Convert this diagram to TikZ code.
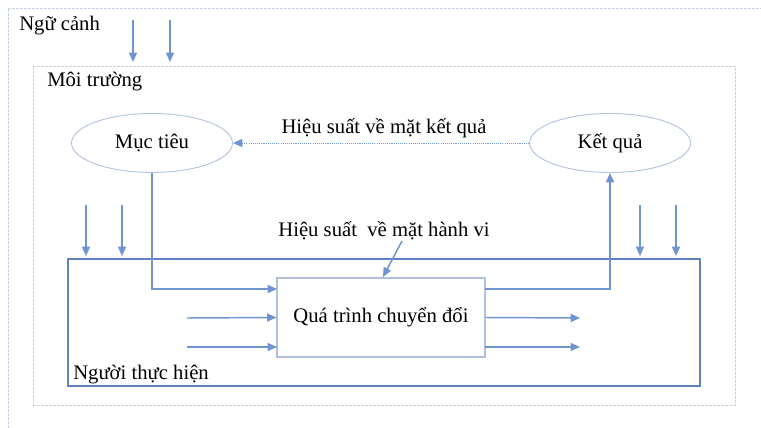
\documentclass[tikz,border=0pt]{standalone}
\usepackage{fontspec}
\setmainfont{Liberation Serif}
\usetikzlibrary{arrows.meta,shapes.geometric}
\definecolor{framec}{RGB}{200,210,228}
\definecolor{arrc}{RGB}{112,148,210}
\definecolor{boxc}{RGB}{98,128,190}
\definecolor{ellc}{RGB}{180,195,225}
\definecolor{qtc}{RGB}{175,192,222}
\begin{document}
\begin{tikzpicture}[x=0.75pt,y=-0.75pt,
  frame/.style={draw=framec,dash pattern=on 2pt off 1pt,line width=0.7pt},
  arr/.style={draw=arrc,line width=1.1pt,-{Triangle[length=7pt,width=6pt]}},
  dotarr/.style={draw=arrc,line width=0.7pt,dash pattern=on 0.8pt off 0.8pt,-{Triangle[length=7pt,width=6pt]}},
  lbl/.style={font=\fontsize{15.5}{18}\selectfont,inner sep=0pt},
  oval/.style={ellipse,draw=ellc,line width=0.7pt,minimum width=120.75pt,minimum height=44.25pt,inner sep=0pt,font=\fontsize{15.5}{18}\selectfont}]
\useasboundingbox (0,0) rectangle (761,428);
\clip (0,0) rectangle (761,428);
\fill[white] (0,0) rectangle (761,428);
% outer context frame (extends beyond picture)
\draw[frame] (8,440) -- (8,8) -- (775,8);
\node[lbl,anchor=west] (ngucanh) at (19,26) {Ngữ cảnh};
% environment frame
\node[frame,draw,minimum width=526.5pt,minimum height=254.25pt,inner sep=0pt] (moitruong) at (384,235.5) {};
\node[lbl,anchor=west] (moitruonglbl) at (47,82) {Môi trường};
% performer box
\node[draw=boxc,line width=1.3pt,minimum width=474pt,minimum height=95.25pt,inner sep=0pt] (nguoi) at (384,322.5) {};
\node[lbl,anchor=west] (nguoilbl) at (73,375) {Người thực hiện};
% ovals
\node[oval] (muctieu) at (152,143) {Mục tiêu};
\node[oval] (ketqua) at (610,143) {Kết quả};
% process box
\node[draw=qtc,line width=0.8pt,minimum width=156pt,minimum height=59.25pt,inner sep=0pt,font=\fontsize{15.5}{18}\selectfont] (qt) at (381,317.5) {Quá trình chuyển đổi};
% labels
\node[lbl] (hsketqua) at (384,128) {Hiệu suất về mặt kết quả};
\node[lbl] (hshanhvi) at (384,231) {Hiệu suất \ về mặt hành vi};
% coordinates
\coordinate (c1s) at (133,20); \coordinate (c1e) at (133,62);
\coordinate (c2s) at (170,20); \coordinate (c2e) at (170,62);
\coordinate (l1s) at (86,205); \coordinate (l1e) at (86,256);
\coordinate (l2s) at (122,205); \coordinate (l2e) at (122,256);
\coordinate (r1s) at (640,205); \coordinate (r1e) at (640,256);
\coordinate (r2s) at (676,205); \coordinate (r2e) at (676,256);
\coordinate (qin1) at (277,289);
\coordinate (in2) at (187,318); \coordinate (in3) at (187,347);
\coordinate (qin3) at (277,347);
\coordinate (out2) at (580,318); \coordinate (out3) at (580,347);
\coordinate (qout3) at (485,347);
\coordinate (qout1) at (485,289);
\coordinate (hvs) at (402,241); \coordinate (hve) at (383,277);
% arrows
\draw[arr] (c1s) -- (c1e);
\draw[arr] (c2s) -- (c2e);
\draw[arr] (l1s) -- (l1e);
\draw[arr] (l2s) -- (l2e);
\draw[arr] (r1s) -- (r1e);
\draw[arr] (r2s) -- (r2e);
\draw[dotarr] (ketqua.west) -- (muctieu.east);
\draw[arr] (muctieu.south) |- (qin1);
\draw[arr] (qout1) -| (ketqua.south);
\draw[arr] (in2) -- (qt.west);
\draw[arr] (in3) -- (qin3);
\draw[arr] (qt.east) -- (out2);
\draw[arr] (qout3) -- (out3);
\draw[arr] (hvs) -- (hve);
\end{tikzpicture}
\end{document}
